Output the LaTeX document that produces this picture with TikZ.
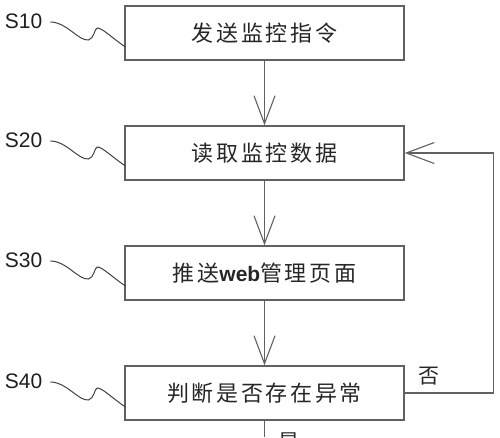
\documentclass[tikz,border=0pt]{standalone}
\usepackage{fontspec}
\setmainfont{Liberation Sans}
\newfontfamily\cjk{Noto Sans CJK SC}[LetterSpace=12]
\usetikzlibrary{arrows.meta}
\begin{document}
\begin{tikzpicture}[x=1pt,y=-1pt,
  stepbox/.style={draw=black!62, line width=1.4pt, minimum width=279pt, minimum height=54pt, inner sep=0pt, font=\cjk\fontsize{22}{26}\selectfont, text=black!85},
  steplabel/.style={inner sep=0pt, font=\fontsize{21}{24}\selectfont, text=black!88},
  flow/.style={draw=black!62, line width=1.3pt, -{Straight Barb[length=28pt,width=21pt,line width=1.1pt]}},
  wig/.style={draw=black!75, line width=1pt},
  branch/.style={inner sep=0pt, font=\cjk\fontsize{21}{24}\selectfont, text=black!85}]
\useasboundingbox (0,0) rectangle (500,437);
\node[stepbox] (b1) at (264.5,33){发送监控指令};
\node[stepbox] (b2) at (264.5,153){读取监控数据};
\node[stepbox] (b3) at (264.5,273){推送{\rmfamily\bfseries\addfontfeature{LetterSpace=0}\fontsize{21}{24}\selectfont web}管理页面};
\node[stepbox] (b4) at (264.5,393){判断是否存在异常};
\node[steplabel] (sl1) at (23.5,21){S10};
\node[steplabel] (sl2) at (23.5,140){S20};
\node[steplabel] (sl3) at (23.5,260){S30};
\node[steplabel] (sl4) at (23.5,381){S40};
% wavy leaders from labels to boxes
\foreach \i in {1,2,3,4}{
  \draw[wig] ([shift={(8pt,-1pt)}]sl\i.east) .. controls +(16,0) and +(-10,1) .. ++(38,18)
    .. controls +(6,-1) and +(-3,0) .. ++(9,-12)
    .. controls +(5,0) and +(-12,-8) .. ++(28,19);
}
\draw[flow] (b1) -- (b2);
\draw[flow] (b2) -- (b3);
\draw[flow] (b3) -- (b4);
\draw[flow] (b4.east) -- ++(89,0) |- (b2.east);
\node[branch] (no) at (429,376){否};
\coordinate (out) at (264.5,437);
\draw[draw=black!62, line width=1.3pt] (b4) -- (out);
\node[branch] (yes) at (289,442){是};
\end{tikzpicture}
\end{document}
